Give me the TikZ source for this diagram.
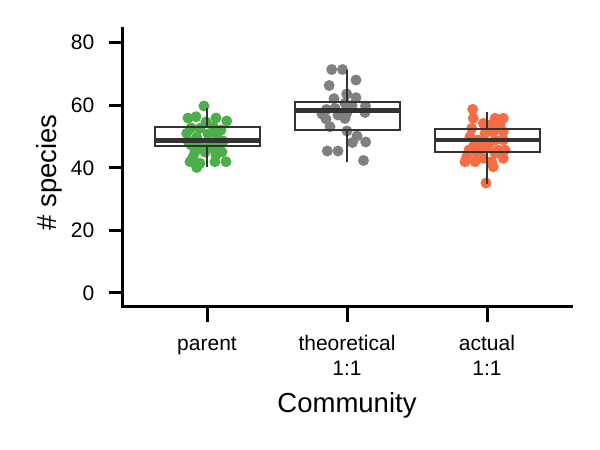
\documentclass[tikz,border=0pt]{standalone}
\usepackage{fontspec}
\setmainfont{Liberation Sans}
\definecolor{cpar}{HTML}{4DAF4A}
\definecolor{cthe}{HTML}{808080}
\definecolor{cact}{HTML}{F46D43}
\definecolor{boxc}{HTML}{333333}
\tikzset{
  axisline/.style={line width=3pt, black},
  ticklab/.style={font=\fontsize{21}{24.3}\selectfont, inner sep=0pt},
  titlelab/.style={font=\fontsize{27.5}{30}\selectfont, inner sep=0pt},
  boxedge/.style={line width=2pt, boxc},
  medline/.style={line width=4.5pt, boxc},
}
\newcommand{\pts}[2]{\foreach \p in {#2}{\fill[#1] \p circle (5.5);}}
\begin{document}
\begin{tikzpicture}[x=1pt,y=-1pt]
\useasboundingbox[fill=white] (0,0) rectangle (600,450);
% points
\pts{cpar}{(204,106),(188,118),(196,116.7),(216,118),(226.7,121),(191,128),(200,128.3),(213.3,126.7),(221,130),(186.7,133.3),(196.7,137),(216.7,134.3),(188,141),(223.3,141),(200,146),(210,145),(218,147),(195,152),(213.3,149),(216,155),(193,157),(190,161.7),(200,163.3),(215,161.7),(226,161.7),(196.7,167.5),(206,122),(191,145),(205,152),(222,152),(208,134)}
\pts{cthe}{(331.7,69.5),(342.5,69.5),(356,80),(329.2,85.5),(346.7,94),(334,98.7),(356,97.7),(365.5,106),(345,103.3),(326.5,109.5),(335,108.5),(352,105.5),(365,112.5),(326,119),(345,118.5),(346.7,113.3),(330,126.7),(347,131),(357,136),(352.5,142.5),(365.7,142),(327.3,151),(338,151),(363.5,160.5),(338,115),(322,114)}
\pts{cact}{(472.7,109.3),(473.3,118.3),(483.3,123.3),(495,118.3),(503.3,118.3),(500,125),(471.7,128.3),(485,133.3),(493.3,131.7),(503.3,131.7),(470,136.7),(478.3,140),(495,140),(503.3,140),(473.3,146.7),(488.3,146.7),(498.3,150),(505,150),(466.7,156.7),(476.7,153.3),(495,153.3),(483.3,158.3),(503.3,158.3),(465,161.7),(475,161.7),(491.7,161.7),(493.3,166.7),(486,183),(482,146),(490,125),(469,150)}
% boxes
\draw[boxedge] (207,108.3) -- (207,126.7) (207,145.7) -- (207,167.3);
\draw[boxedge] (154.5,126.7) rectangle (259.5,145.7);
\draw[medline] (154.5,140.3) -- (259.5,140.3);
\draw[boxedge] (347,70) -- (347,101.7) (347,130.3) -- (347,161.7);
\draw[boxedge] (294.5,101.7) rectangle (399.5,130.3);
\draw[medline] (294.5,110.3) -- (399.5,110.3);
\draw[boxedge] (487,111.7) -- (487,129.3) (487,152.3) -- (487,183.5);
\draw[boxedge] (434.5,129.3) rectangle (539.5,152.3);
\draw[medline] (434.5,140) -- (539.5,140);
% axes
\draw[axisline] (122,26.5) -- (122,308.3);
\draw[axisline] (120.5,306.8) -- (573,306.8);
\foreach \v/\yy in {0/292.9,20/230.3,40/167.8,60/105.2,80/42.7}{
  \draw[axisline] (109,\yy) -- (122,\yy);
  \node[ticklab, anchor=east] (yl\v) at (94.5,\yy) {\v};
}
\foreach \xx in {207,347,487}{
  \draw[axisline] (\xx,306.8) -- (\xx,322);
}
\node[ticklab, anchor=base] (xa) at (207,350.7) {parent};
\node[ticklab, anchor=base, align=center] (xb) at (347,375) {theoretical\\1:1};
\node[ticklab, anchor=base, align=center] (xc) at (487,375) {actual\\1:1};
\node[titlelab, anchor=base] (xt) at (347,412.3) {Community};
\node[titlelab, anchor=base, rotate=90] (yt) at (56,172.5) {\# species};
\end{tikzpicture}
\end{document}
